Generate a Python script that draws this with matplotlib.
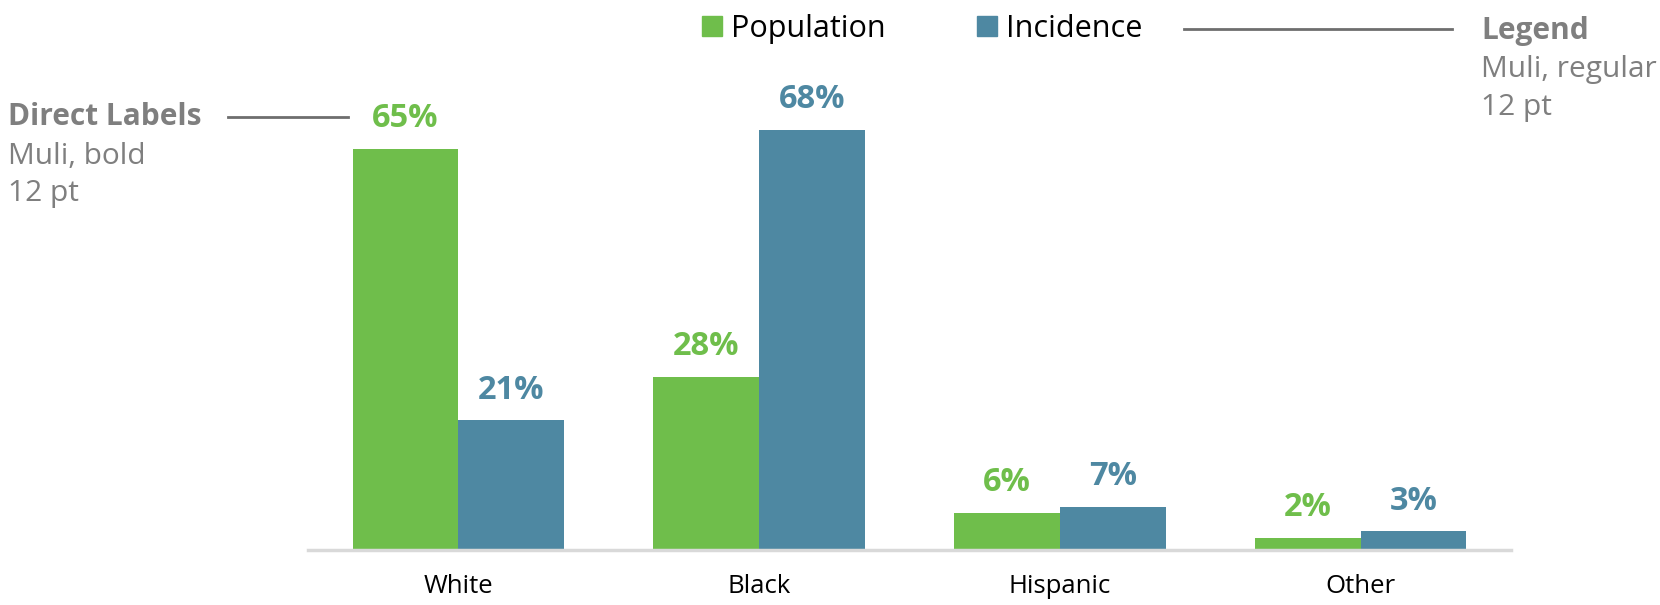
import numpy as np
import matplotlib.pyplot as plt
from matplotlib.patches import Patch
from matplotlib.lines import Line2D

plt.rcParams['font.family'] = ['Open Sans', 'DejaVu Sans']

# data
categories = ["White", "Black", "Hispanic", "Other"]
population = [65, 28, 6, 2]
incidence = [21, 68, 7, 3]

green = "#6FBE4B"
blue = "#4E88A2"
grey = "#7F7F7F"

W, H = 1660, 605
fig = plt.figure(figsize=(W / 100, H / 100), dpi=100)
ax = fig.add_axes([308 / W, 1 - 550 / H, (1511 - 308) / W, 0.816])

x = np.arange(len(categories))
bw = 0.352
b1 = ax.bar(x - bw / 2, population, bw, color=green)
b2 = ax.bar(x + bw / 2, incidence, bw, color=blue)

for bars, vals, col in [(b1, population, green), (b2, incidence, blue)]:
    for b, v in zip(bars, vals):
        ax.annotate(f"{v}%", (b.get_x() + b.get_width() / 2, v),
                    xytext=(0, 10), textcoords="offset points",
                    ha="center", va="bottom", fontsize=23.5,
                    fontweight="bold", color=col)

ax.set_xlim(-0.5, 3.5)
ax.set_ylim(0, 80)
ax.set_xticks(x)
ax.set_xticklabels(categories, fontsize=18.5, color="black")
ax.tick_params(axis="x", length=0, pad=17)
ax.set_yticks([])
for s in ["top", "right", "left"]:
    ax.spines[s].set_visible(False)
ax.spines["bottom"].set_color("#D9D9D9")
ax.spines["bottom"].set_linewidth(2.5)

# legend
handles = [Patch(color=green, label="Population"), Patch(color=blue, label="Incidence")]
fig.legend(handles=handles, loc="center", bbox_to_anchor=(922 / W, 1 - 29 / H),
           ncol=2, frameon=False, fontsize=22, handlelength=0.65, handleheight=0.65,
           handletextpad=0.3, columnspacing=3.0)

# annotation notes
fig.text(8 / W, 1 - 117 / H, "Direct Labels", fontsize=21.5, fontweight="bold",
         color=grey, va="center", ha="left")
fig.text(8 / W, 1 - 156 / H, "Muli, bold", fontsize=21.5, color=grey, va="center", ha="left")
fig.text(8 / W, 1 - 194 / H, "12 pt", fontsize=21.5, color=grey, va="center", ha="left")
fig.add_artist(Line2D([228 / W, 348 / W], [1 - 117 / H] * 2, color="#6E6E6E", lw=2))

fig.text(1481 / W, 1 - 31 / H, "Legend", fontsize=21.5, fontweight="bold",
         color=grey, va="center", ha="left")
fig.text(1481 / W, 1 - 70 / H, "Muli, regular", fontsize=21.5, color=grey, va="center", ha="left")
fig.text(1481 / W, 1 - 107 / H, "12 pt", fontsize=21.5, color=grey, va="center", ha="left")
fig.add_artist(Line2D([1184 / W, 1452 / W], [1 - 29 / H] * 2, color="#6E6E6E", lw=2))

fig.savefig("out.png", dpi=100)
